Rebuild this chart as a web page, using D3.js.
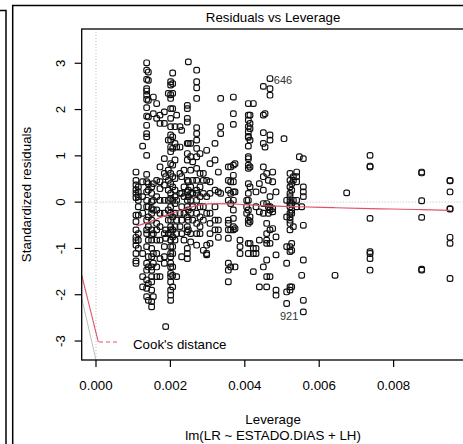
<!DOCTYPE html>
<html><head><meta charset="utf-8">
<script src="https://cdn.jsdelivr.net/npm/d3@7"></script>
<style>
html,body{margin:0;padding:0;background:#fff;}
svg{display:block;font-family:"Liberation Sans",Arial,Helvetica,sans-serif;}
</style></head>
<body><svg id="c" width="463" height="444"></svg>
<script>
// ---- data ----
const leverage = [0.001075,0.001138,0.001254,0.001362,0.001407,0.001496,0.001541,0.001631,0.001720,0.001837,
0.001873,0.001944,0.002007,0.002061,0.002124,0.002168,0.002258,0.002303,0.002366,0.002455,
0.002482,0.002545,0.002599,0.002706,0.002796,0.002885,0.002975,0.003065,0.003199,0.003289,
0.003351,0.003557,0.003620,0.003692,0.003737,0.003871,0.004050,0.004095,0.004140,0.004229,
0.004301,0.004391,0.004498,0.004543,0.004588,0.004633,0.004677,0.004749,0.004839,0.005054,
0.005125,0.005215,0.005260,0.005305,0.005394,0.005466,0.005529,0.005573,0.006425,0.006738,
0.007366,0.008754,0.009516];
const residuals = [
[0.65,0.47,0.37,0.27,0.19,0.10,-0.28,-0.42,-0.60,-0.76,-0.83,-0.93,-1.11,-1.27,-1.32],
[0.33,0.22,0.12,0.04,-0.10,-0.28,-0.68,-0.82,-1.00],
[1.21,0.44,0.12,-0.24,-1.11,-1.61,-1.83],
[3.01,2.85,2.65,2.45,2.40,2.31,2.22,2.04,1.86,1.66,1.48,1.41,1.01,0.60,0.44,0.22,0.04,-0.10,-0.39,-0.60,-0.68,-0.96,-1.32,-1.47,-1.68,-1.86,-2.04],
[2.81,2.63,2.20,1.84,0.40,0.26,-0.10,-0.32,-0.53,-0.82,-1.18,-1.40,-1.76,-2.12],
[0.33,0.19,0.01,-0.14,-0.24,-0.39,-0.60,-0.71,-0.82,-1.00,-1.18,-1.40,-1.47,-1.61,-1.72,-1.90,-2.15,-2.26],
[2.27,1.91,0.40,0.04,-0.17,-0.68,-1.11,-1.32,-2.04],
[2.13,1.81,0.47,0.12,-0.17,-0.46,-0.60,-0.82,-1.11,-1.40,-1.61],
[1.88,1.70,0.76,0.44,0.29,0.04,-0.24,-0.53,-0.82,-1.22,-1.61],
[1.95,1.70,0.94,0.62,0.37,0.04,-0.24,-0.68,-0.96,-1.18,-1.32],
[-2.69,0.55,-0.60,-0.78],
[2.35,1.34,0.69,0.47,0.26,0.04,-0.17,-0.39,-0.68],
[2.60,2.53,2.32,2.24,2.02,1.81,1.63,1.45,1.34,1.19,1.09,0.83,0.62,0.40,0.19,0.08,-0.10,-0.24,-0.39,-0.53,-0.60,-0.68,-0.82,-0.96,-1.11,-1.18,-1.32,-1.40,-1.54,-1.61,-1.72,-1.90,-2.01,-2.12],
[2.79,2.56,2.35,2.02,1.41,1.16,0.80,0.55,0.33,0.04,-0.32,-0.60,-0.75,-0.96,-1.11,-1.40,-1.58,-1.83],
[1.63,1.27,0.91,0.51,0.26,0.12,-0.03,-0.24,-0.53,-0.82],
[1.88,1.19,0.04,-0.39,-0.68,-1.61],
[1.63,1.19,0.62,0.19,-0.24,-0.53],
[1.55,0.55,0.19,-0.10,-0.39,-0.68,-1.18],
[0.69,0.33,0.12,-0.24,-0.82],
[2.09,2.02,1.81,1.73,1.27,1.05,0.91,0.47,0.22,0.04,-0.10,-0.32,-0.53,-0.64,-1.00,-1.11,-1.22],
[3.03,1.27,0.44,0.26,0.12,-0.17,-0.39,-0.60],
[1.27,0.98,0.69,0.33,0.19,0.04,-0.24,-0.68,-0.86],
[0.87,0.47,0.19,-0.10,-0.39],
[2.85,2.60,2.47,2.24,1.61,1.48,1.34,1.16,0.98,0.73,0.47,0.26,0.19,0.04,-0.24,-0.46,-0.68,-0.93],
[1.05,0.62,0.33,0.12,-0.10,-0.32,-0.53,-0.68],
[0.62,0.47,0.19,-0.10,-0.39,-1.04],
[1.12,0.47,0.12,-0.24,-0.93,-1.11,-1.14],
[0.83,0.44,0.19,-0.24,-0.46,-0.68,-0.89],
[1.27,0.91,0.26,-0.10,-0.39,-0.60],
[0.65,0.22,-0.39,-0.60,-0.76],
[2.24,1.63,1.48,0.19],
[0.76,0.47,0.26,0.04,-0.39,-0.46,-0.60,-0.78,-1.32,-1.47,-1.72],
[0.76,0.44,0.19,-0.03,-0.60,-1.40],
[2.27,1.91,1.68,0.80,0.58,0.44,0.22,0.04,-0.17,-0.35,-0.53,-0.60],
[0.83,0.22,-0.57,-1.40],
[-0.82,-0.96,-1.11],
[0.04,-0.10,-0.24],
[2.13,1.88,1.77,1.63,1.52,1.42,1.40,1.21,0.98,0.94,0.80,0.73,0.40,0.19,0.04,-0.17,-0.39,-0.46,-0.89,-1.11],
[1.88,1.70,1.59,1.34,0.76,0.33,-0.32,-0.42,-0.89],
[2.13,-1.00,-1.11,-1.50],
[0.22,-0.10,-1.00,-1.11],
[0.40,-0.21,-0.82,-1.83],
[2.50,1.88,1.50,1.27,0.76,0.55,0.26,-0.03,-0.24,-1.40],
[1.91,1.19],
[0.62,-0.03,-0.46,-0.68,-0.82,-0.89,-1.25,-1.61,-1.83],
[0.47,-0.10,-0.24],
[2.67,2.45,2.31,1.45,1.34,0.12,-0.10,-0.17,-0.60,-0.89,-1.61],
[0.65,0.44,-0.14,-0.21,-0.57],
[0.22,-0.75,-1.14,-1.90,-2.01],
[1.37],
[0.04,-0.32,-0.96,-1.32,-1.94,-2.19],
[0.62,0.47,0.33,0.19,0.12,0.04,-0.03,-0.10,-0.24,-0.32,-0.39,-0.46,-0.60,-0.96,-1.07,-1.83,-1.90],
[0.40,0.26,-0.03,-0.17,-0.24,-0.89,-1.04,-1.83],
[0.55,0.47,0.04,-0.53],
[0.65,0.55,0.44,0.04,-0.10],
[0.98],
[-0.10,-1.58],
[0.94,0.33,0.22,0.12,-0.50,-1.25,-2.12,-2.37],
[-1.58],
[0.20],
[1.01,0.78,0.76,-0.35,-1.07,-1.11,-1.22,-1.47],
[0.65,0.63,0.03,-0.33,-1.45,-1.47],
[0.47,0.46,0.22,-0.14,-0.15,-0.76,-0.89,-1.65]
];
// smoother
const smoothLev = [0.001075,0.001452,0.001900,0.002348,0.002796,0.003244,0.003692,0.004140,0.004588,0.005036,0.005484,0.006380,0.007366,0.008754,0.009516];
const smoothRes = [-0.52,-0.42,-0.28,-0.16,-0.06,-0.03,-0.04,-0.06,-0.08,-0.09,-0.10,-0.12,-0.14,-0.16,-0.18];
// Cook's distance contour and grey guide near the lower left
const cookLev = [-0.000384, 0.000062];
const cookRes = [-1.577, -3.017];
const greyLev = [-0.000384, 0.0];
const greyRes = [-2.07, -3.41];
// labelled points
const labelIds = ["646", "921"];
const labelLev = [0.004659, 0.005573];
const labelRes = [2.65, -2.37];
const labelSide = ["right", "left"];
// ticks
const xTicks = [0, 0.002, 0.004, 0.006, 0.008];
const xTickLabels = ["0.000", "0.002", "0.004", "0.006", "0.008"];
const yTicks = [-3, -2, -1, 0, 1, 2, 3];
const yTickLabels = ["-3", "-2", "-1", "0", "1", "2", "3"];
const titleText = "Residuals vs Leverage";
const xLabel = "Leverage";
const subLabel = "lm(LR ~ ESTADO.DIAS + LH)";
const yLabel = "Standardized residuals";
const legendText = "Cook's distance";

// ---- drawing ----
const RED = "#DF536B";
const FS = 13.3;
const svg = d3.select("#c");
const L = 81.7, T = 29, B = 360, R = 464.5;
const x = d3.scaleLinear().domain([-0.000384, 0.009905]).range([L, R]);
const y = d3.scaleLinear().domain([-3.41, 3.74]).range([B, T]);

// outer frames
svg.append("path").attr("d","M0,10.5H6V444").attr("fill","none").attr("stroke","#000").attr("stroke-width",1.5);
svg.append("path").attr("d","M12.7,444V5.5H463").attr("fill","none").attr("stroke","#000").attr("stroke-width",1.5);

svg.append("clipPath").attr("id","pc").append("rect")
  .attr("x",L).attr("y",T).attr("width",R-L).attr("height",B-T);
const g = svg.append("g").attr("clip-path","url(#pc)");

// reference dotted lines
g.append("line").attr("x1",x(0)).attr("x2",x(0)).attr("y1",T).attr("y2",B)
  .attr("stroke","#bebebe").attr("stroke-dasharray","1,2");
g.append("line").attr("x1",L).attr("x2",R).attr("y1",y(0)).attr("y2",y(0))
  .attr("stroke","#bebebe").attr("stroke-dasharray","1,2");

// grey & cook lines
const ln = d3.line().x(d=>x(d[0])).y(d=>y(d[1]));
g.append("path").attr("d",ln(d3.zip(greyLev,greyRes))).attr("fill","none").attr("stroke","#bebebe").attr("stroke-width",1);
g.append("path").attr("d",ln(d3.zip(cookLev,cookRes))).attr("fill","none").attr("stroke",RED).attr("stroke-width",1.1);

// points (open rounded markers)
const pts = [];
leverage.forEach((lv,i)=>residuals[i].forEach(r=>pts.push([lv,r])));
const S = 5.6;
g.selectAll("rect.pt").data(pts).enter().append("rect").attr("class","pt")
  .attr("x",d=>x(d[0])-S/2).attr("y",d=>y(d[1])-S/2).attr("width",S).attr("height",S).attr("rx",1.9)
  .attr("fill","none").attr("stroke","#111").attr("stroke-width",1.2);

// smoother
g.append("path").attr("d",d3.line().curve(d3.curveMonotoneX).x(d=>x(d[0])).y(d=>y(d[1]))(d3.zip(smoothLev,smoothRes)))
  .attr("fill","none").attr("stroke",RED).attr("stroke-width",1.2);

// labels
labelIds.forEach((t,i)=>{
  const right = labelSide[i]==="right";
  svg.append("text").attr("x",x(labelLev[i])+(right?4.5:-5)).attr("y",y(labelRes[i])+(right?4.5:8))
    .attr("text-anchor",right?"start":"end").attr("font-size",11).attr("fill","#333").text(t);
});

// box
svg.append("rect").attr("x",L).attr("y",T).attr("width",R-L).attr("height",B-T)
  .attr("fill","none").attr("stroke","#000").attr("stroke-width",1.3);

// x axis
xTicks.forEach((v,i)=>{
  svg.append("line").attr("x1",x(v)).attr("x2",x(v)).attr("y1",B).attr("y2",B+7).attr("stroke","#000").attr("stroke-width",1.2);
  svg.append("text").attr("x",x(v)).attr("y",390.4).attr("text-anchor","middle").attr("font-size",FS).text(xTickLabels[i]);
});
// y axis
yTicks.forEach((v,i)=>{
  svg.append("line").attr("x1",L-7).attr("x2",L).attr("y1",y(v)).attr("y2",y(v)).attr("stroke","#000").attr("stroke-width",1.2);
  svg.append("text").attr("transform",`translate(65.4,${y(v)}) rotate(-90)`).attr("text-anchor","middle").attr("font-size",FS).text(yTickLabels[i]);
});

// titles
svg.append("text").attr("x",(L+R)/2).attr("y",22).attr("text-anchor","middle").attr("font-size",FS).text(titleText);
svg.append("text").attr("x",(L+R)/2).attr("y",423.7).attr("text-anchor","middle").attr("font-size",FS).text(xLabel);
svg.append("text").attr("x",(L+R)/2).attr("y",440.4).attr("text-anchor","middle").attr("font-size",FS).text(subLabel);
svg.append("text").attr("transform",`translate(31.4,${(T+B)/2}) rotate(-90)`).attr("text-anchor","middle").attr("font-size",FS).text(yLabel);

// legend
svg.append("line").attr("x1",99).attr("x2",120).attr("y1",342).attr("y2",342).attr("stroke",RED).attr("stroke-dasharray","4,3");
svg.append("text").attr("x",133).attr("y",349).attr("font-size",FS).text(legendText);
</script></body></html>
